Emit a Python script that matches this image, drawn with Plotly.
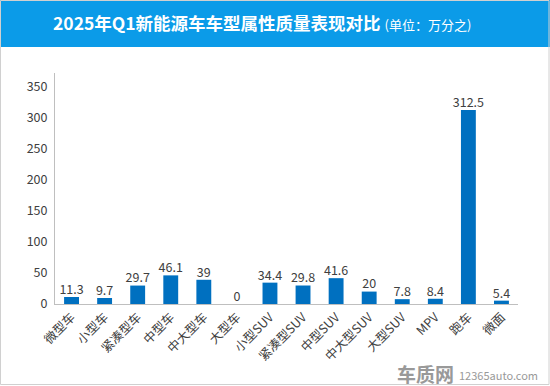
import plotly.graph_objects as go

categories = ["微型车", "小型车", "紧凑型车", "中型车", "中大型车", "大型车", "小型SUV",
              "紧凑型SUV", "中型SUV", "中大型SUV", "大型SUV", "MPV", "跑车", "微面"]
values = [11.3, 9.7, 29.7, 46.1, 39, 0, 34.4, 29.8, 41.6, 20, 7.8, 8.4, 312.5, 5.4]
labels = ["11.3", "9.7", "29.7", "46.1", "39", "0", "34.4", "29.8", "41.6", "20", "7.8", "8.4", "312.5", "5.4"]
y_ticks = [0, 50, 100, 150, 200, 250, 300, 350]

W, H = 550, 386
L, R, T, B = 55, 32, 73, 82
PW, PH = W - L - R, H - T - B

def px(x):
    return (x - L) / PW

def py(y):
    return 1 - (y - T) / PH

FONT = "Noto Sans CJK SC, Microsoft YaHei, sans-serif"

fig = go.Figure()
fig.add_trace(go.Bar(
    x=categories, y=values, width=0.45,
    marker=dict(color="#0070c0", line=dict(width=0)),
    hoverinfo="skip",
))
fig.add_trace(go.Scatter(
    x=categories, y=values, mode="text", text=labels,
    textposition="top center", cliponaxis=False, hoverinfo="skip",
    textfont=dict(size=12.5, color="#404040", family=FONT),
))

fig.update_layout(
    width=W, height=H,
    margin=dict(l=L, r=R, t=T, b=B),
    paper_bgcolor="white", plot_bgcolor="white",
    showlegend=False,
    font=dict(family=FONT, color="#404040", size=12),
    xaxis=dict(showline=True, linecolor="#bfbfbf", linewidth=1, ticks="",
               tickangle=-45, tickfont=dict(size=12.5, color="#404040"),
               showgrid=False, range=[-0.5, 13.5], automargin=False),
    yaxis=dict(showline=True, linecolor="#bfbfbf", linewidth=1, ticks="",
               range=[0, 372], tickvals=y_ticks, showgrid=False, zeroline=False,
               tickfont=dict(size=12.5, color="#404040"), ticklabelstandoff=4,
               automargin=False),
    shapes=[
        dict(type="rect", xref="paper", yref="paper", x0=px(0), x1=px(W), y0=py(47), y1=py(0),
             fillcolor="#0b9be8", line=dict(width=0), layer="below"),
        dict(type="rect", xref="paper", yref="paper", x0=px(0.5), x1=px(W - 1), y0=py(H - 1.5), y1=py(0.5),
             fillcolor="rgba(0,0,0,0)", line=dict(color="#d0d0d0", width=1)),
    ],
    annotations=[
        dict(xref="paper", yref="paper", x=px(262), y=py(22), xanchor="center", yanchor="middle",
             text="<b>2025年Q1新能源车车型属性质量表现对比</b> <span style='font-size:13px'>(单位：万分之)</span>",
             showarrow=False, font=dict(size=17.5, color="white", family=FONT)),
        dict(xref="paper", yref="paper", x=px(425), y=py(373), xanchor="center", yanchor="middle",
             text="<b>车质网</b>", showarrow=False,
             font=dict(size=19, color="#999999", family=FONT)),
        dict(xref="paper", yref="paper", x=px(457), y=py(375), xanchor="left", yanchor="middle",
             text="12365auto.com", showarrow=False,
             font=dict(size=11, color="#999999", family=FONT)),
    ],
)

fig.write_html("out.html", config={"displayModeBar": False},
               post_script="document.body.style.margin='0';document.body.style.overflow='hidden';")
